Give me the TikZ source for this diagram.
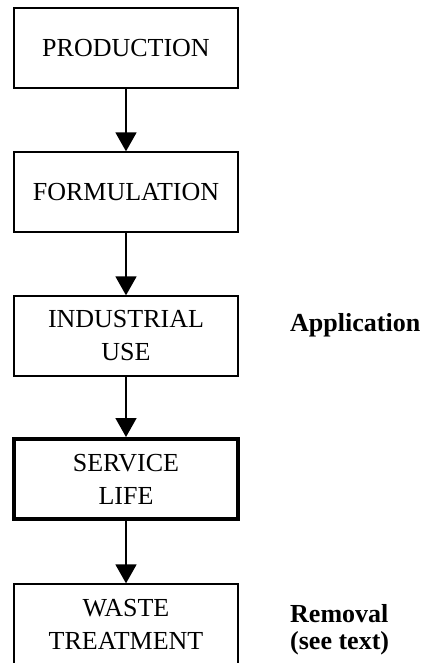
\documentclass[tikz,border=0pt]{standalone}
\usepackage{fontspec}
\setmainfont{Liberation Serif}
\usetikzlibrary{arrows, arrows.meta, positioning}
\tikzstyle{stage} = [rectangle, minimum width=224pt, minimum height=80pt, inner sep=0pt, text centered, align=center, draw=black, line width=1.3pt, font=\fontsize{26}{33}\selectfont]
\tikzstyle{mainstage} = [stage, line width=4pt]
\tikzstyle{note} = [align=left, inner sep=0pt, font=\fontsize{26}{27}\selectfont\bfseries]
\tikzstyle{arrow} = [line width=1.7pt,-{Triangle[width=21pt,length=19pt]}]

\begin{document}
\begin{tikzpicture}[node distance=144pt]
\useasboundingbox (0,0) rectangle (422pt,-663pt);

\node (production) [stage] at (126pt,-48pt) {PRODUCTION};
\node (formulation) [stage, below of=production] {FORMULATION};
\node (industrial) [stage, below of=formulation] {INDUSTRIAL\\USE};
\node (service) [mainstage, below of=industrial, yshift=1pt] {SERVICE\\LIFE};
\node (waste) [stage, below of=service, yshift=-1pt] {WASTE\\TREATMENT};

\node (application) [note, anchor=base west] at (290pt,-331pt) {Application};
\node (removal) [note, anchor=base west] at (290pt,-649pt) {Removal\\(see text)};

\draw [arrow] (production) -- (formulation);
\draw [arrow] (formulation) -- (industrial);
\draw [arrow] (industrial) -- (service);
\draw [arrow] (service) -- (waste);

\end{tikzpicture}
\end{document}
